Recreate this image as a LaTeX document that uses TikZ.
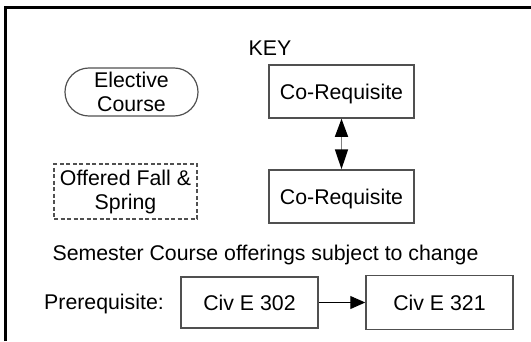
\documentclass[tikz,border=0pt]{standalone}
\usepackage{fontspec}
\setmainfont{Liberation Sans}
\usetikzlibrary{arrows.meta}
\definecolor{boxgray}{RGB}{80,80,80}
\begin{document}
\begin{tikzpicture}[x=1pt,y=-1pt,
  txt/.style={font=\fontsize{21.3}{24}\selectfont, inner sep=0pt},
  box/.style={txt, draw=boxgray, line width=1.5pt, text height=15pt, text depth=0pt},
  pill/.style={txt, draw=boxgray, line width=1.2pt, align=center, rounded corners=23.9pt,
    minimum width=133pt, minimum height=48pt},
  dashbox/.style={txt, draw=boxgray, line width=1.2pt, align=center, dash pattern=on 4pt off 2.5pt,
    minimum width=143pt, minimum height=55pt},
  frame/.style={line width=3pt, black},
  coarrow/.style={{Triangle[length=18pt,width=13pt,color=black]}-{Triangle[length=20pt,width=13pt,color=black]},
    line width=1.5pt, draw=gray},
  prearrow/.style={-{Triangle[length=15pt,width=13pt]}, line width=1pt, black}
]
\useasboundingbox (0,0) rectangle (531,341);
\draw[frame] (5.5,341) -- (5.5,7) -- (531,7);

\node[txt, anchor=base] (key) at (270,55) {KEY};
\node[pill] (elective) at (131.5,92) {Elective\\Course};
\node[box, minimum width=145pt, minimum height=53pt] (co1) at (341.5,91.5) {Co-Requisite};
\node[box, minimum width=145pt, minimum height=53pt] (co2) at (341.5,196.5) {Co-Requisite};
\node[dashbox] (offered) at (125.5,191.5) {Offered Fall \&\\Spring};
\node[txt, anchor=base] (sem) at (265.5,260) {Semester Course offerings subject to change};
\node[txt, anchor=base] (pre) at (104,309) {Prerequisite:};
\node[box, minimum width=137pt, minimum height=51pt] (c302) at (249.5,302.5) {Civ E 302};
\node[box, minimum width=147pt, minimum height=54pt] (c321) at (439.5,302.5) {Civ E 321};

\draw[coarrow] (co1) -- (co2);
\draw[prearrow] (c302) -- (c321);
\end{tikzpicture}
\end{document}
